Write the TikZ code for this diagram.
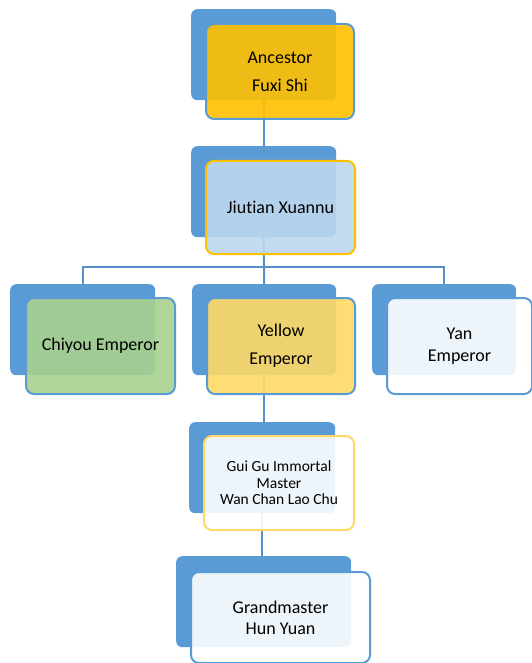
\documentclass[tikz,border=0pt]{standalone}
\usepackage{fontspec}
\setmainfont[Ligatures=NoCommon]{Carlito}
\definecolor{bblue}{HTML}{5B9BD5}
\definecolor{lineblue}{HTML}{5590CD}
\definecolor{gold}{HTML}{FFC000}
\definecolor{lgold}{HTML}{FFD966}
\definecolor{lblue}{HTML}{BDD7EE}
\definecolor{lgreen}{HTML}{A9D18E}
\begin{document}
\begin{tikzpicture}[x=1pt,y=-1pt,
  backbox/.style={anchor=north west,inner sep=0pt,fill=bblue,rounded corners=6pt},
  frontbox/.style={anchor=north west,inner sep=0pt,draw=bblue,line width=2pt,fill=white,fill opacity=0.9,text opacity=1,rounded corners=8pt,align=center,font=\fontsize{18}{28}\selectfont},
  conn/.style={draw=lineblue,line width=2pt}]
\useasboundingbox (0,0) rectangle (532,663);
% back boxes
\node[backbox,minimum width=145pt,minimum height=91pt] (b1) at (191,9) {};
\node[backbox,minimum width=145pt,minimum height=91pt] (b2) at (191,146) {};
\node[backbox,minimum width=145pt,minimum height=91pt] (b3) at (10,284) {};
\node[backbox,minimum width=144pt,minimum height=91pt] (b4) at (192,284) {};
\node[backbox,minimum width=144pt,minimum height=91pt] (b5) at (372,284) {};
\node[backbox,minimum width=146pt,minimum height=91pt] (b6) at (189,422) {};
\node[backbox,minimum width=175pt,minimum height=91pt] (b7) at (176,556) {};
% connectors
\coordinate (bar) at (0,267);
\draw[conn] (b1.south) -- (b2.north);
\draw[conn] (b2.south) -- (b4.north);
\draw[conn] (b3.north) -- (b3.north |- bar) -- (b5.north |- bar) -- (b5.north);
\draw[conn] (b4.south) -- (b4.south |- b6.north);
\draw[conn] (b6.south) -- (b6.south |- b7.north);
% front boxes
\node[frontbox,fill=gold,minimum width=148pt,minimum height=95pt] (f1) at (205,23) {Ancestor\\Fuxi Shi};
\node[frontbox,draw=gold,fill=lblue,minimum width=149pt,minimum height=93pt] (f2) at (205,160) {Jiutian Xuannu};
\node[frontbox,fill=lgreen,minimum width=149pt,minimum height=96pt] (f3) at (25,297) {Chiyou Emperor};
\node[frontbox,fill=lgold,minimum width=148pt,minimum height=96pt] (f4) at (206,297) {Yellow\\Emperor};
\node[frontbox,minimum width=145pt,minimum height=96pt,font=\fontsize{18}{22}\selectfont] (f5) at (386,297) {Yan\\Emperor};
\node[frontbox,draw=lgold,minimum width=150pt,minimum height=94pt,font=\fontsize{15.5}{16.5}\selectfont] (f6) at (203,435) {Gui Gu Immortal\\Master\\Wan Chan Lao Chu};
\node[frontbox,minimum width=179pt,minimum height=91pt,font=\fontsize{18}{21}\selectfont] (f7) at (190,571) {Grandmaster\\Hun Yuan};
\end{tikzpicture}
\end{document}
